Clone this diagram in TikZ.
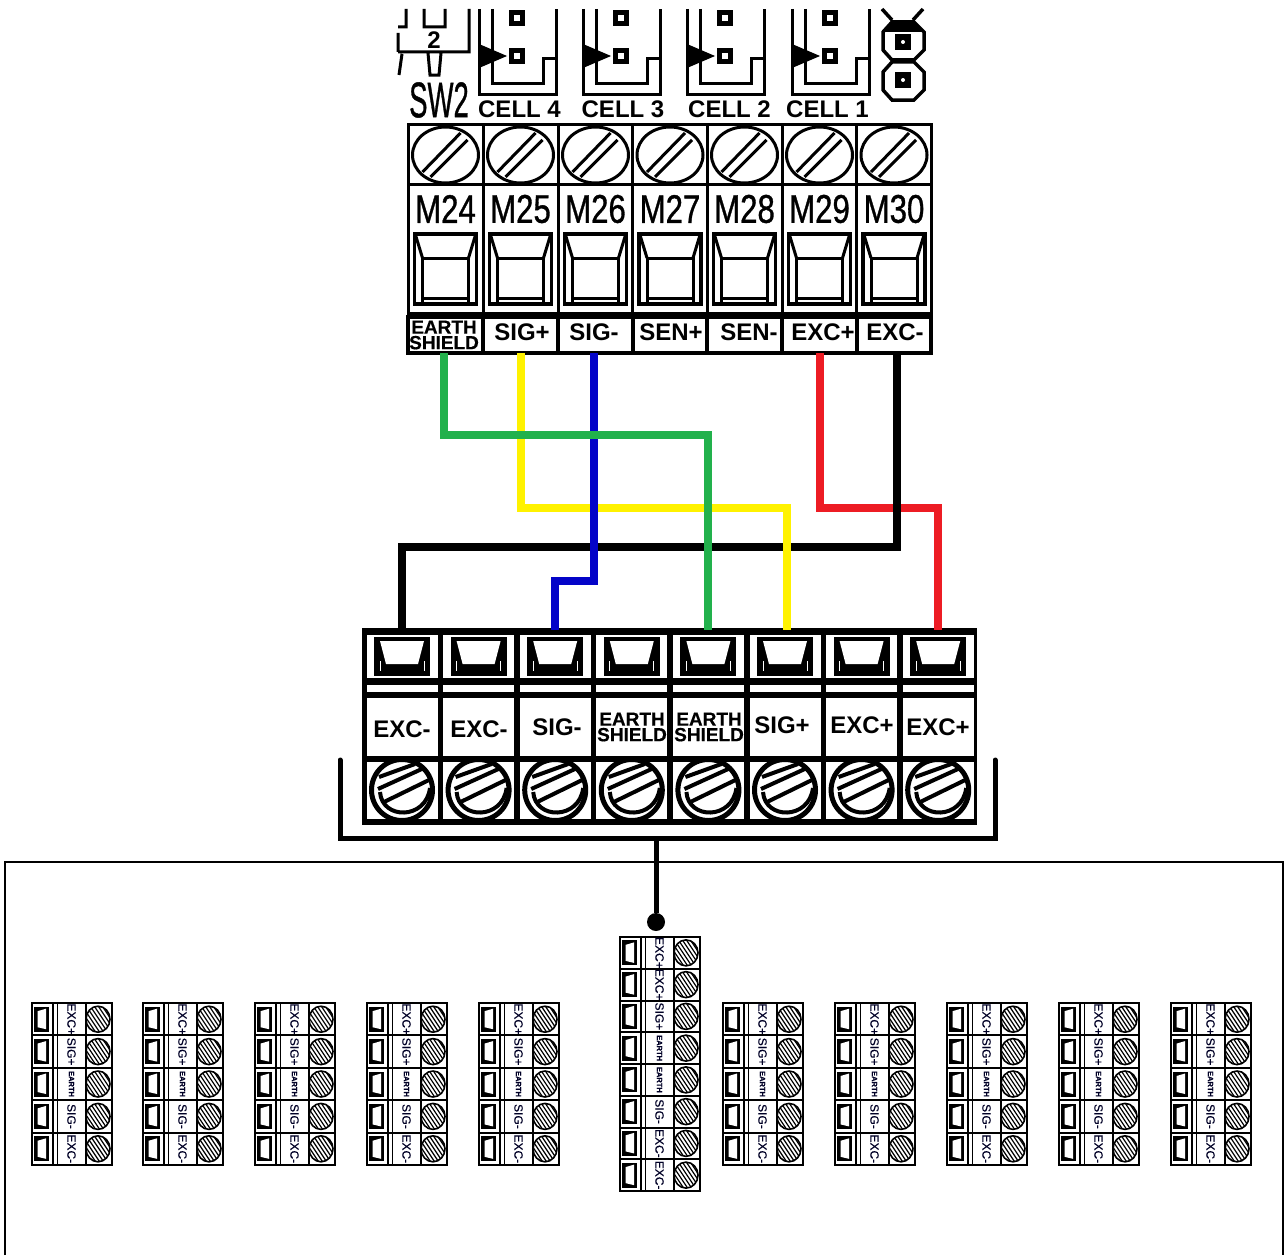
\documentclass[tikz,border=0pt]{standalone}
\usepackage{fontspec}
\setmainfont{Liberation Sans}
\newfontfamily\thicksans[FakeBold=1]{Liberation Sans}
\newfontfamily\midsans[FakeBold=.4]{Liberation Sans}
\newcommand\earthshield{{\fontsize{19}{19}\selectfont\midsans EARTH}\\[-8.5pt]{\fontsize{19}{19}\selectfont\midsans SHIELD}}
\newcommand\earthsmall{\fontsize{7.5}{8}\selectfont\bfseries EARTH}
\newcommand\narrowtext[3]{\scalebox{#1}[1]{\fontsize{#2}{#2}\selectfont\thicksans #3}}
\newcommand\pinsquare[2]{%
  \fill (#1-8,#2-8) rectangle (#1+8,#2+8);
  \fill[white] (#1-3,#2-3) rectangle (#1+3,#2+3);}
% small terminal block: name, x, y, block height, rows, labels
\newcommand\termblock[6]{%
  \begin{scope}[shift={(#2,#3)}]
    \foreach \lab [count=\i] in {#6} {
      \pgfmathsetmacro\ry{(\i-0.5)*#4/#5}
      \begin{scope}[shift={(0,\ry)}]
        \fill (2,-12.5) rectangle (17,12.5);
        \fill[white] (5.5,-8) -- (14,-10.5) -- (14,10) -- (5.5,8) -- cycle;
        \begin{scope}
          \clip (66,0) circle[x radius=12,y radius=13];
          \foreach \d in {-15,-11,-7,-3,1,5,9,13}
            \draw[line width=1.2] (66+\d-10,-15) -- (66+\d+10,15);
        \end{scope}
        \draw[line width=1.6] (66,0) circle[x radius=12,y radius=13];
        \node[minilabel,rotate=-90] (#1lab\i) at (39.5,0) {\lab};
      \end{scope}
      \draw[line width=2] (0,\i*#4/#5) -- (80,\i*#4/#5);
    }
    \node[minimum width=80pt,minimum height=0pt,inner sep=0pt,outer sep=0pt] (#1) at (40,0) {};
    \draw[line width=2.4] (0,0) rectangle (80,#4);
    \draw[line width=1.6] (21,0) -- (21,#4) (25.5,0) -- (25.5,#4);
    \draw[line width=1.6] (54,0) -- (54,#4);
  \end{scope}}
\tikzset{
  wireline/.style={line width=8pt,line join=miter},
  toplabel/.style={draw,line width=4pt,minimum width=74.7pt,minimum height=36pt,inner sep=0pt,outer sep=0pt},
  lowlabel/.style={inner sep=0pt,align=center,font=\fontsize{24}{24}\selectfont\bfseries},
  lowterm/.style={minimum width=71pt,minimum height=53pt,inner sep=0pt,outer sep=0pt},
  minilabel/.style={inner sep=0pt,text=black!85!blue,font=\fontsize{12}{12}\selectfont\midsans},
  celltext/.style={inner sep=0pt,font=\fontsize{24}{24}\selectfont\bfseries},
}
\begin{document}
\begin{tikzpicture}[x=1pt,y=-1pt]
  \useasboundingbox (0,0) rectangle (1284,1255);

  % switch corner
  \draw[line width=3pt] (406,9) -- (406,27) -- (398,27) (424,9) -- (424,27) -- (445,27) -- (445,9)
    (469,9) -- (469,52) -- (398,52) (398,33) -- (398,52)
    (402,54) -- (399,75) (428,53) -- (430,75) -- (439,75) -- (441,53);
  \node[inner sep=0pt,fill=white] (swTwo) at (434,40) {\fontsize{24}{24}\selectfont\bfseries 2};
  \node[inner sep=0pt] (swName) at (439,100) {\narrowtext{.55}{50}{SW2}};

  % cell connectors
  \foreach \cx/\tx/\cname in {479/519.5/CELL 4,583/623/CELL 3,687/729.5/CELL 2,792/827.5/CELL 1} {
    \begin{scope}[shift={(\cx,0)}]
      \draw[line width=3pt] (0,9) -- (0,94) -- (77,94) -- (77,9);
      \draw[line width=3pt] (13,9) -- (13,83) -- (64,83) -- (64,59) -- (77,59);
      \fill (0,44) -- (0,68) -- (28,56) -- cycle;
      \pinsquare{38}{18}
      \pinsquare{38}{56}
    \end{scope}
    \node[celltext] (label\cx) at (\tx,109) {\cname};
  }

  % jumper
  \draw[line width=3.5pt] (882,9) -- (892,20) (923,9) -- (913,20);
  \foreach \jy in {22,62} {
    \draw[line width=3.5pt] (892,\jy) -- (914,\jy) -- (924,\jy+10) -- (924,\jy+28) -- (914,\jy+38)
      -- (892,\jy+38) -- (883,\jy+28) -- (883,\jy+10) -- cycle;
  }
  \fill (892,22) -- (914,22) -- (924,32) -- (883,32) -- cycle;
  \foreach \jy in {42,80} {
    \fill (895,\jy-8) rectangle (911,\jy+8);
    \fill[white] (903,\jy) circle[radius=2];
  }

  % upper terminal strip
  \draw[line width=3pt] (408,124) rectangle (931,315);
  \draw[line width=3pt] (408,184) -- (931,184);
  \fill (408,312) rectangle (931,318);
  \foreach \cx [count=\i] in {445.5,520.5,595.5,670,744.5,819.5,894} {
    \begin{scope}[shift={(\cx,0)}]
      \draw[line width=3pt] (0,155) circle[x radius=33,y radius=28];
      \draw[line width=3pt] (-23,172) -- (15,133) (-15,177) -- (22,140);
      \draw[line width=3.5pt] (-31,234) rectangle (31,304);
      \draw[line width=3pt] (-23,304) -- (-23,258) -- (23,258) -- (23,304) (-23,298) -- (23,298);
      \draw[line width=3pt] (-30,235) -- (-23,258) (30,235) -- (23,258);
    \end{scope}
    \ifnum\i>1 \draw[line width=3pt] (\cx-37.3,124) -- (\cx-37.3,315); \fi
  }
  \foreach \cx/\tname in {445.5/M24,520.5/M25,595.5/M26,670/M27,744.5/M28,819.5/M29,894/M30} {
    \node[inner sep=0pt] (name\tname) at (\cx,209) {\narrowtext{.78}{40}{\tname}};
  }
  \foreach \cx [count=\i] in {445.5,520.5,595.5,670,744.5,819.5,894} {
    \node[toplabel] (topLabel\i) at (\cx,335) {};
  }
  \node[lowlabel] (topText1) at (444,335) {\earthshield};
  \foreach \tx/\lab [count=\i from 2] in {522/SIG+,594/SIG-,671/SEN+,749/SEN-,823/EXC+,895/EXC-} {
    \node[lowlabel] (topText\i) at (\tx,332) {\lab};
  }

  % lower terminal strip
  \fill (362,628) rectangle (977,825);
  \foreach \cx [count=\i] in {402,478.6,555.2,631.8,708.4,785,861.6,938.2} {
    \node[lowterm] (lowTerm\i) at (\cx,656.5) {};
    \fill[white] (\cx-35.5,635) rectangle (\cx+35.5,678);
    \fill[white] (\cx-35.5,685) rectangle (\cx+35.5,692);
    \fill[white] (\cx-35.5,698) rectangle (\cx+35.5,756);
    \fill[white] (\cx-35.5,762) rectangle (\cx+35.5,819);
    \begin{scope}[shift={(\cx,0)}]
      \fill (-28,637) rectangle (28,676);
      \fill[white] (-22,641) -- (22,641) -- (16,664) -- (-16,664) -- cycle;
      \draw[white,line width=1pt] (-22,661) -- (-22,671) (22,661) -- (22,671);
      \begin{scope}
        \clip (-35.5,762) rectangle (35.5,819);
        \draw[line width=5pt] (0,790) circle[radius=30.5];
      \end{scope}
      \draw[line width=4pt] (-23,777) -- (13,764) (-24,789) -- (22,768) (-18,802) -- (27,780);
      \draw[line width=4pt] (-22,792) .. controls (-20,820) and (24,820) .. (28,788);
    \end{scope}
  }
  \foreach \tx/\ty/\lab [count=\i] in {402/729/EXC-,479/729/EXC-,557/727/SIG-,632/727/\earthshield,709/727/\earthshield,782/725/SIG+,862/725/EXC+,938/727/EXC+} {
    \node[lowlabel] (lowText\i) at (\tx,\ty) {\lab};
  }

  % wires
  \draw[wireline,color={rgb,255:red,237;green,28;blue,36}] (topLabel6.south) -- ++(0,155) -| (lowTerm8.north);
  \draw[wireline,black] ([xshift=3pt]topLabel7.south) -- ++(0,194) -| (lowTerm1.north);
  \draw[wireline,color={rgb,255:red,255;green,242;blue,0}] (topLabel2.south) -- ++(0,155) -| ([xshift=2pt]lowTerm6.north);
  \draw[wireline,color={rgb,255:red,4;green,4;blue,200}] ([xshift=-1.5pt]topLabel3.south) -- ++(0,228) -| (lowTerm3.north);
  \draw[wireline,color={rgb,255:red,34;green,177;blue,76}] ([xshift=-1.5pt]topLabel1.south) -- ++(0,82) -| (lowTerm5.north);

  % bus and frame
  \coordinate (busTap) at (656,838);
  \draw[line width=5pt,line cap=round] (340,760) -- (340,838) -- (995,838) -- (995,760);
  \draw[line width=2pt] (5,1255) -- (5,862) -- (1283,862) -- (1283,1255);
  \node[circle,fill,minimum size=18pt,inner sep=0pt] (tapDot) at (656,922) {};
  \draw[line width=5pt] (busTap) -- (tapDot);

  % blocks
  \termblock{mainBlock}{620}{937}{254}{8}{EXC+,EXC+,SIG+,\earthsmall,\earthsmall,SIG-,EXC-,EXC-}
  \foreach \bx in {32,143,255,367,479,723,835,947,1059,1171} {
    \termblock{block\bx}{\bx}{1003}{162}{5}{EXC+,SIG+,\earthsmall,SIG-,EXC-}
  }
\end{tikzpicture}
\end{document}
